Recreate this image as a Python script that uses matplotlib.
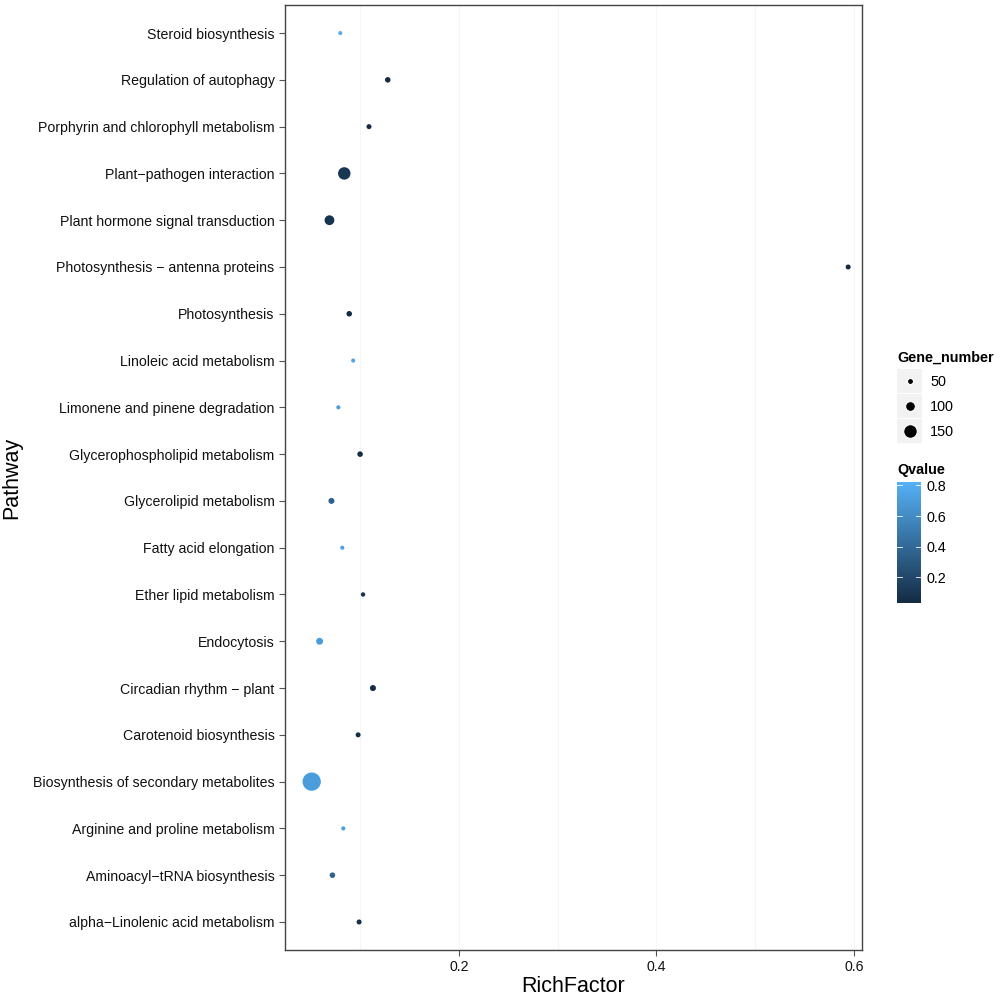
import numpy as np
import matplotlib
matplotlib.use("Agg")
import matplotlib.pyplot as plt
from matplotlib.colors import LinearSegmentedColormap, Normalize
from matplotlib.patches import Rectangle

plt.rcParams['font.family'] = ['Liberation Sans', 'DejaVu Sans']

# pathways, top to bottom as shown
pathways = [
    'Steroid biosynthesis',
    'Regulation of autophagy',
    'Porphyrin and chlorophyll metabolism',
    'Plant\u2212pathogen interaction',
    'Plant hormone signal transduction',
    'Photosynthesis \u2212 antenna proteins',
    'Photosynthesis',
    'Linoleic acid metabolism',
    'Limonene and pinene degradation',
    'Glycerophospholipid metabolism',
    'Glycerolipid metabolism',
    'Fatty acid elongation',
    'Ether lipid metabolism',
    'Endocytosis',
    'Circadian rhythm \u2212 plant',
    'Carotenoid biosynthesis',
    'Biosynthesis of secondary metabolites',
    'Arginine and proline metabolism',
    'Aminoacyl\u2212tRNA biosynthesis',
    'alpha\u2212Linolenic acid metabolism',
]
rich_factor = [0.080, 0.128, 0.109, 0.084, 0.069, 0.594, 0.089, 0.093, 0.078, 0.100,
               0.071, 0.082, 0.103, 0.059, 0.113, 0.098, 0.051, 0.083, 0.072, 0.099]
gene_number = [25, 44, 37, 135, 100, 37, 44, 25, 25, 44,
               50, 25, 30, 62, 50, 37, 212, 25, 44, 37]
qvalue = [0.80, 0.03, 0.03, 0.10, 0.08, 0.03, 0.03, 0.75, 0.70, 0.03,
          0.35, 0.72, 0.10, 0.70, 0.03, 0.05, 0.70, 0.70, 0.35, 0.05]

size_breaks = [50, 100, 150]
q_ticks = [0.2, 0.4, 0.6, 0.8]
q_min, q_max = 0.03, 0.826

cmap = LinearSegmentedColormap.from_list('gg', ['#132B43', '#56B1F7'])
norm = Normalize(q_min, q_max)


def marker_area(v):
    # diameter in pixels grows with gene count, converted to points^2
    d_px = 2.2 + 0.076 * np.asarray(v, dtype=float)
    return (d_px * 0.72) ** 2


fig = plt.figure(figsize=(10, 9.99), dpi=100)
ax = fig.add_axes([0.285, 0.049, 0.577, 0.946])

ypos = np.arange(len(pathways))[::-1]
ax.scatter(rich_factor, ypos, s=marker_area(gene_number), c=qvalue,
           cmap=cmap, norm=norm, edgecolors='none', zorder=3)

ax.set_ylim(-0.6, len(pathways) - 0.4)
ax.set_xlim(0.024, 0.608)
ax.set_yticks(ypos)
ax.set_yticklabels(pathways, fontsize=10.2, color='#111111')
ax.set_xticks([0.2, 0.4, 0.6])
ax.set_xticklabels(['0.2', '0.4', '0.6'], fontsize=10.2, color='#111111')
ax.set_xticks([0.1, 0.3, 0.5], minor=True)
ax.tick_params(axis='both', which='major', length=4, width=0.8, color='#555555')
ax.tick_params(axis='x', which='minor', length=0)
ax.grid(True, which='both', axis='x', color='#f6f6f6', linewidth=0.8, zorder=0)
for sp in ax.spines.values():
    sp.set_color('#444444')
    sp.set_linewidth(1.0)

ax.set_xlabel('RichFactor', fontsize=15.5, labelpad=1)
ax.set_ylabel('Pathway', fontsize=15.5, va='center')
ax.yaxis.set_label_coords(-0.473, 0.5)

# size legend
fig.text(0.897, 0.642, 'Gene_number', fontsize=10.4, fontweight='bold', va='center')
lax = fig.add_axes([0.897, 0.556, 0.025, 0.075])
lax.set_xlim(0, 1)
lax.set_ylim(0, 3)
lax.axis('off')
for i, b in enumerate(size_breaks):
    yk = 2 - i
    lax.add_patch(Rectangle((0, yk + 0.03), 1, 0.94, facecolor='#f2f2f2',
                            edgecolor='none'))
    lax.scatter([0.5], [yk + 0.5], s=marker_area(b), color='black',
                edgecolors='white', linewidths=0.8, zorder=3)
    fig.text(0.930, 0.630 - (i + 0.5) * 0.025, str(b), fontsize=10.4, va='center')

# colour bar
fig.text(0.897, 0.530, 'Qvalue', fontsize=10.4, fontweight='bold', va='center')
cax = fig.add_axes([0.897, 0.396, 0.024, 0.122])
cb = fig.colorbar(plt.cm.ScalarMappable(norm=norm, cmap=cmap), cax=cax)
cb.set_ticks(q_ticks)
cb.ax.tick_params(length=0, labelsize=10.4, pad=4)
cb.outline.set_visible(False)
for t in q_ticks:
    cax.plot([0, 0.2], [t, t], color='white', lw=0.6, transform=cax.get_yaxis_transform())
    cax.plot([0.8, 1], [t, t], color='white', lw=0.6, transform=cax.get_yaxis_transform())

fig.savefig('out.png', dpi=100)
